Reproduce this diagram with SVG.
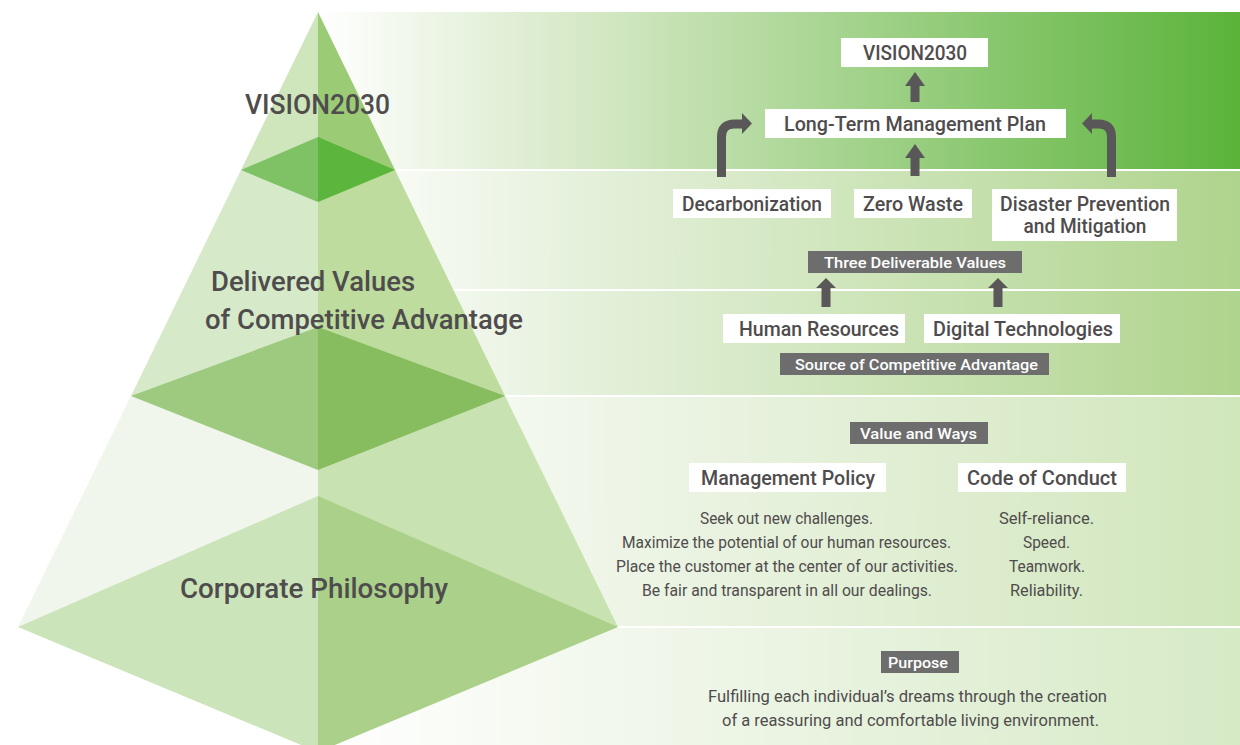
<svg xmlns="http://www.w3.org/2000/svg" width="1240" height="745" viewBox="0 0 1240 745">
<defs>
<linearGradient id="g1" gradientUnits="userSpaceOnUse" x1="318" y1="0" x2="1240" y2="0">
<stop offset="0" stop-color="#ffffff"/><stop offset="0.3" stop-color="#d4e8c4"/><stop offset="1" stop-color="#5bb33a"/>
</linearGradient>
<linearGradient id="g2" gradientUnits="userSpaceOnUse" x1="318" y1="0" x2="1240" y2="0">
<stop offset="0" stop-color="#ffffff"/><stop offset="0.3" stop-color="#e4f0da"/><stop offset="1" stop-color="#afd48d"/>
</linearGradient>
<linearGradient id="g4" gradientUnits="userSpaceOnUse" x1="318" y1="0" x2="1240" y2="0">
<stop offset="0" stop-color="#ffffff"/><stop offset="0.32" stop-color="#eef5e7"/><stop offset="1" stop-color="#d0e6bb"/>
</linearGradient>
<linearGradient id="g5" gradientUnits="userSpaceOnUse" x1="318" y1="0" x2="1240" y2="0">
<stop offset="0" stop-color="#ffffff"/><stop offset="0.35" stop-color="#f1f7eb"/><stop offset="1" stop-color="#d6eac6"/>
</linearGradient>
<style>
.t{font-family:Roboto,"Liberation Sans",sans-serif;fill:#4f4c4d}
.big{font-size:28px;font-weight:500}
.box{fill:#ffffff}
.bt{font-size:20px;font-weight:500;text-anchor:middle}
.lab{fill:#6e6d6d}
.lt{font-family:Roboto,"Liberation Sans",sans-serif;fill:#ffffff;font-size:15px;font-weight:500;text-anchor:middle}
.ln{font-size:16px;text-anchor:middle}
.arr{fill:#595757}
.curve{fill:none;stroke:#595757;stroke-width:9}
</style>
</defs>
<rect width="1240" height="745" fill="#ffffff"/>
<g id="bands">
<rect x="318" y="12" width="922" height="157" fill="url(#g1)"/>
<rect x="318" y="171" width="922" height="118" fill="url(#g2)"/>
<rect x="318" y="291" width="922" height="104" fill="url(#g2)"/>
<rect x="318" y="397" width="922" height="229" fill="url(#g4)"/>
<rect x="318" y="628" width="922" height="117" fill="url(#g5)"/>
</g>
<g id="pyramid">
<polygon points="318,12 241,170 318,170" fill="#cfe5bc"/>
<polygon points="318,12 395,170 318,170" fill="#9ccb75"/>
<polygon points="241,170 131,396 318,396 318,170" fill="#d6e9c8"/>
<polygon points="395,170 505,396 318,396 318,170" fill="#bddc9e"/>
<polygon points="131,396 18,627 318,627 318,396" fill="#f0f6ec"/>
<polygon points="505,396 618,627 318,627 318,396" fill="#c8e2b1"/>
<polygon points="241,170 318,137 318,202" fill="#7fc266"/>
<polygon points="395,170 318,137 318,202" fill="#5cb53c"/>
<polygon points="131,396 318,327 318,470" fill="#9dca7f"/>
<polygon points="505,396 318,327 318,470" fill="#87bc5f"/>
<polygon points="18,627 318,496 318,752" fill="#cce4ba"/>
<polygon points="618,627 318,496 318,752" fill="#aad08a"/>
</g>
<g id="pyramid-labels">
<text class="t big" x="245" y="114" textLength="145" lengthAdjust="spacingAndGlyphs">VISION2030</text>
<text class="t big" x="211" y="291" textLength="204" lengthAdjust="spacingAndGlyphs">Delivered Values</text>
<text class="t big" x="205" y="329" textLength="318" lengthAdjust="spacingAndGlyphs">of Competitive Advantage</text>
<text class="t big" x="180" y="598" textLength="268" lengthAdjust="spacingAndGlyphs">Corporate Philosophy</text>
</g>
<g id="connectors">
<polygon class="arr" points="915,72 925,86 919.5,86 919.5,102 910.5,102 910.5,86 905,86"/>
<polygon class="arr" points="915,144 925,158 919.5,158 919.5,176 910.5,176 910.5,158 905,158"/>
<polygon class="arr" points="826,278 836,288 830.5,288 830.5,307 821.5,307 821.5,288 816,288"/>
<polygon class="arr" points="998,278 1008,288 1002.5,288 1002.5,307 993.5,307 993.5,288 988,288"/>
<path class="curve" d="M721.5 177 V137 Q721.5 124 734.5 124 H743"/>
<polygon class="arr" points="742,113 752,123.5 742,134"/>
<path class="curve" d="M1111.5 177 V137 Q1111.5 124 1098.5 124 H1091"/>
<polygon class="arr" points="1092,113 1082,123.5 1092,134"/>
</g>
<g id="n-vision">
<rect class="box" x="841" y="38" width="147" height="29"/>
<text class="t bt" x="915" y="60" textLength="104" lengthAdjust="spacingAndGlyphs">VISION2030</text>
</g>
<g id="n-longterm">
<rect class="box" x="765" y="109" width="301" height="29"/>
<text class="t bt" x="915" y="131" textLength="262" lengthAdjust="spacingAndGlyphs">Long-Term Management Plan</text>
</g>
<g id="n-decarb">
<rect class="box" x="673" y="189" width="158" height="29"/>
<text class="t bt" x="752" y="211" textLength="140" lengthAdjust="spacingAndGlyphs">Decarbonization</text>
</g>
<g id="n-zero">
<rect class="box" x="854" y="189" width="118" height="29"/>
<text class="t bt" x="913" y="211" textLength="100" lengthAdjust="spacingAndGlyphs">Zero Waste</text>
</g>
<g id="n-disaster">
<rect class="box" x="992" y="189" width="185" height="52"/>
<text class="t bt" x="1085" y="211" textLength="170" lengthAdjust="spacingAndGlyphs">Disaster Prevention</text>
<text class="t bt" x="1085" y="233" textLength="123" lengthAdjust="spacingAndGlyphs">and Mitigation</text>
</g>
<g id="n-three">
<rect class="lab" x="808" y="251" width="214" height="22"/>
<text class="lt" x="915" y="267.5" textLength="182" lengthAdjust="spacingAndGlyphs">Three Deliverable Values</text>
</g>
<g id="n-human">
<rect class="box" x="723" y="314" width="182" height="29"/>
<text class="t bt" x="819" y="336" textLength="160" lengthAdjust="spacingAndGlyphs">Human Resources</text>
</g>
<g id="n-digital">
<rect class="box" x="924" y="314" width="196" height="29"/>
<text class="t bt" x="1023" y="336" textLength="180" lengthAdjust="spacingAndGlyphs">Digital Technologies</text>
</g>
<g id="n-source">
<rect class="lab" x="780" y="353" width="269" height="22"/>
<text class="lt" x="916.5" y="369.5" textLength="243" lengthAdjust="spacingAndGlyphs">Source of Competitive Advantage</text>
</g>
<g id="n-valueways">
<rect class="lab" x="850" y="422" width="138" height="22"/>
<text class="lt" x="918.5" y="439" textLength="117" lengthAdjust="spacingAndGlyphs">Value and Ways</text>
</g>
<g id="n-policy">
<rect class="box" x="689" y="463" width="197" height="29"/>
<text class="t bt" x="788" y="485" textLength="174" lengthAdjust="spacingAndGlyphs">Management Policy</text>
<text class="t ln" x="786.5" y="524" textLength="173" lengthAdjust="spacingAndGlyphs">Seek out new challenges.</text>
<text class="t ln" x="786.5" y="548" textLength="329" lengthAdjust="spacingAndGlyphs">Maximize the potential of our human resources.</text>
<text class="t ln" x="787" y="572" textLength="342" lengthAdjust="spacingAndGlyphs">Place the customer at the center of our activities.</text>
<text class="t ln" x="787" y="596" textLength="290" lengthAdjust="spacingAndGlyphs">Be fair and transparent in all our dealings.</text>
</g>
<g id="n-conduct">
<rect class="box" x="958" y="463" width="168" height="29"/>
<text class="t bt" x="1042" y="485" textLength="150" lengthAdjust="spacingAndGlyphs">Code of Conduct</text>
<text class="t ln" x="1046.5" y="524" textLength="95" lengthAdjust="spacingAndGlyphs">Self-reliance.</text>
<text class="t ln" x="1046.5" y="548" textLength="47" lengthAdjust="spacingAndGlyphs">Speed.</text>
<text class="t ln" x="1047" y="572" textLength="76" lengthAdjust="spacingAndGlyphs">Teamwork.</text>
<text class="t ln" x="1046.5" y="596" textLength="73" lengthAdjust="spacingAndGlyphs">Reliability.</text>
</g>
<g id="n-purpose">
<rect class="lab" x="881" y="651" width="78" height="22"/>
<text class="lt" x="918" y="668" textLength="60" lengthAdjust="spacingAndGlyphs">Purpose</text>
<text class="t ln" x="907.5" y="702" textLength="399" lengthAdjust="spacingAndGlyphs">Fulfilling each individual’s dreams through the creation</text>
<text class="t ln" x="910.5" y="726" textLength="377" lengthAdjust="spacingAndGlyphs">of a reassuring and comfortable living environment.</text>
</g>
</svg>
